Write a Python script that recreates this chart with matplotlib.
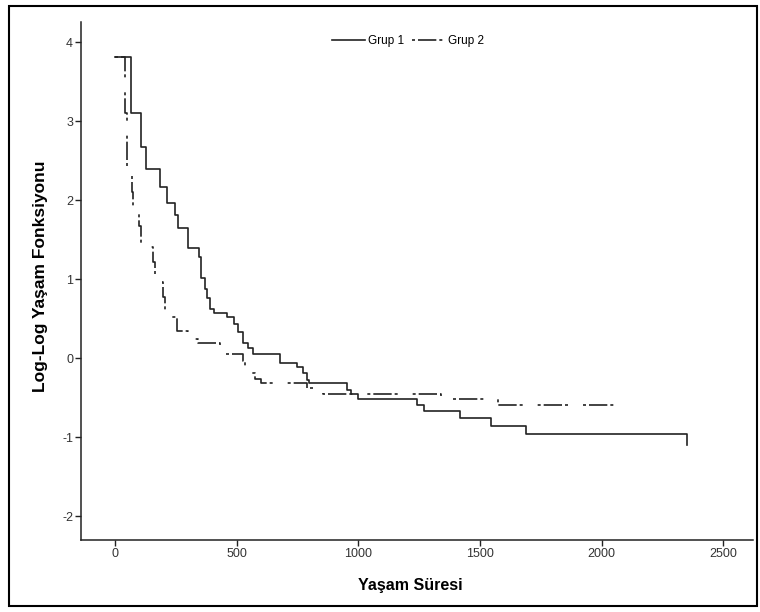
import matplotlib
matplotlib.use("Agg")
import matplotlib.pyplot as plt
from matplotlib.patches import Rectangle

plt.rcParams['font.family'] = ['Liberation Sans']
plt.rcParams['axes.unicode_minus'] = False

# Log-log survival curves
grup1_t = [0, 64, 105, 126, 185, 215, 246, 260, 301, 346, 353, 368, 379, 390, 407,
           459, 489, 507, 527, 548, 568, 678, 746, 773, 787, 798, 954, 968, 1000,
           1242, 1270, 1417, 1545, 1689, 2352]
grup1_v = [3.81, 3.10, 2.68, 2.39, 2.17, 1.96, 1.81, 1.65, 1.39, 1.28, 1.01, 0.88, 0.76,
           0.63, 0.57, 0.52, 0.44, 0.33, 0.19, 0.13, 0.05, -0.06, -0.11, -0.19, -0.27,
           -0.31, -0.40, -0.45, -0.52, -0.59, -0.67, -0.76, -0.86, -0.96, -1.10]

grup2_t = [0, 41, 48, 68, 75, 100, 108, 157, 165, 196, 205, 253, 301, 342, 431, 452,
           527, 535, 545, 575, 600, 790, 853, 1340, 1572, 2050]
grup2_v = [3.81, 3.10, 2.39, 2.10, 1.85, 1.68, 1.41, 1.22, 0.97, 0.78, 0.52, 0.35, 0.25,
           0.19, 0.13, 0.06, -0.03, -0.12, -0.19, -0.26, -0.31, -0.38, -0.45, -0.52,
           -0.59, -0.59]

x_ticks = [0, 500, 1000, 1500, 2000, 2500]
y_ticks = [-2, -1, 0, 1, 2, 3, 4]

fig = plt.figure(figsize=(7.6, 6.12), dpi=100)
ax = fig.add_axes([80.7 / 760, 1 - 540 / 612, 672 / 760, 518.3 / 612])

ax.plot(grup1_t, grup1_v, drawstyle='steps-post', color='#222222', lw=1.2,
        label='Grup 1')
ax.plot(grup2_t, grup2_v, drawstyle='steps-post', color='#222222', lw=1.2,
        linestyle=(0, (1.8, 1.8, 11, 1.8, 1.8, 9)), label='Grup 2')

ax.set_xlim(-141, 2620)
ax.set_ylim(-2.30, 4.26)
ax.set_xticks(x_ticks)
ax.set_yticks(y_ticks)
ax.tick_params(direction='out', length=4, width=1, colors='#222222',
               labelsize=9, labelcolor='#333333', pad=1.5)

for s in ['top', 'right']:
    ax.spines[s].set_visible(False)
for s in ['left', 'bottom']:
    ax.spines[s].set_color('#222222')
    ax.spines[s].set_linewidth(1.1)

ax.set_xlabel('Yaşam Süresi', fontsize=11.5, fontweight='bold', va='center')
ax.xaxis.set_label_coords(0.49, -0.087)
ax.set_ylabel('Log-Log Yaşam Fonksiyonu', fontsize=12.5, fontweight='bold', va='center')
ax.yaxis.set_label_coords(-0.06, 0.508)

ax.legend(loc='center', bbox_to_anchor=(0.487, 0.963), ncol=2, frameon=False,
          fontsize=8.5, handlelength=2.8, handletextpad=0.25, columnspacing=0.6)

# outer border of the picture
fig.patches.append(Rectangle((9 / 760, 6 / 612), 748 / 760, 600 / 612,
                             transform=fig.transFigure, fill=False,
                             edgecolor='black', lw=1.5))

fig.savefig('out.png', dpi=100)
